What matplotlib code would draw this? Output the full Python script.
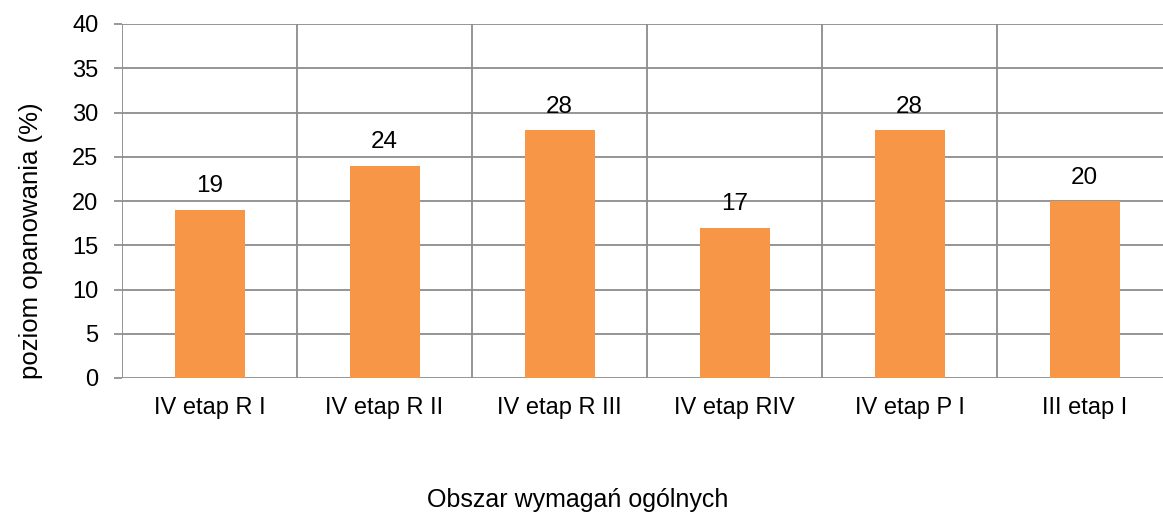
import matplotlib
matplotlib.use("Agg")
import matplotlib.pyplot as plt
import numpy as np

categories = ["IV etap R I", "IV etap R II", "IV etap R III", "IV etap RIV", "IV etap P I", "III etap I"]
values = [19, 24, 28, 17, 28, 20]
yticks = [0, 5, 10, 15, 20, 25, 30, 35, 40]

plt.rcParams['font.family'] = ['Liberation Sans', 'DejaVu Sans']

W, H = 1163, 515
fig = plt.figure(figsize=(W / 100, H / 100), dpi=100)
left, right, top, bottom = 122, 1172, 24, 378
ax = fig.add_axes([left / W, 1 - bottom / H, (right - left) / W, (bottom - top) / H])

x = np.arange(len(categories))
ax.bar(x, values, width=0.4, color="#F79646", zorder=3)
for xi, v in zip(x, values):
    ax.annotate(str(v), (xi, v), xytext=(0, 9), textcoords="offset points",
                ha="center", va="bottom", fontsize=17.5, color="black")

ax.set_xlim(-0.5, len(categories) - 0.5)
ax.set_ylim(0, 40)
ax.set_yticks(yticks)
ax.set_xticks(x)
ax.set_xticklabels(categories, fontsize=17)
ax.tick_params(axis="x", length=0, pad=14)
ax.tick_params(axis="y", length=6, width=1.2, color="#878787", labelsize=17, pad=11)

gc = "#8C8C8C"
for y in yticks:
    ax.axhline(y, color=gc, lw=1.3, zorder=1)
for b in np.arange(-0.5, len(categories), 1.0):
    ax.axvline(b, color=gc, lw=1.3, zorder=1)
for s in ax.spines.values():
    s.set_visible(False)

fig.text(31 / W, 1 - 241 / H, "poziom opanowania (%)", rotation=90,
         ha="center", va="center", fontsize=18.5)
fig.text(578 / W, 1 - 500 / H, "Obszar wymagań ogólnych", ha="center", va="center", fontsize=18)

fig.savefig("out.png", dpi=100)
